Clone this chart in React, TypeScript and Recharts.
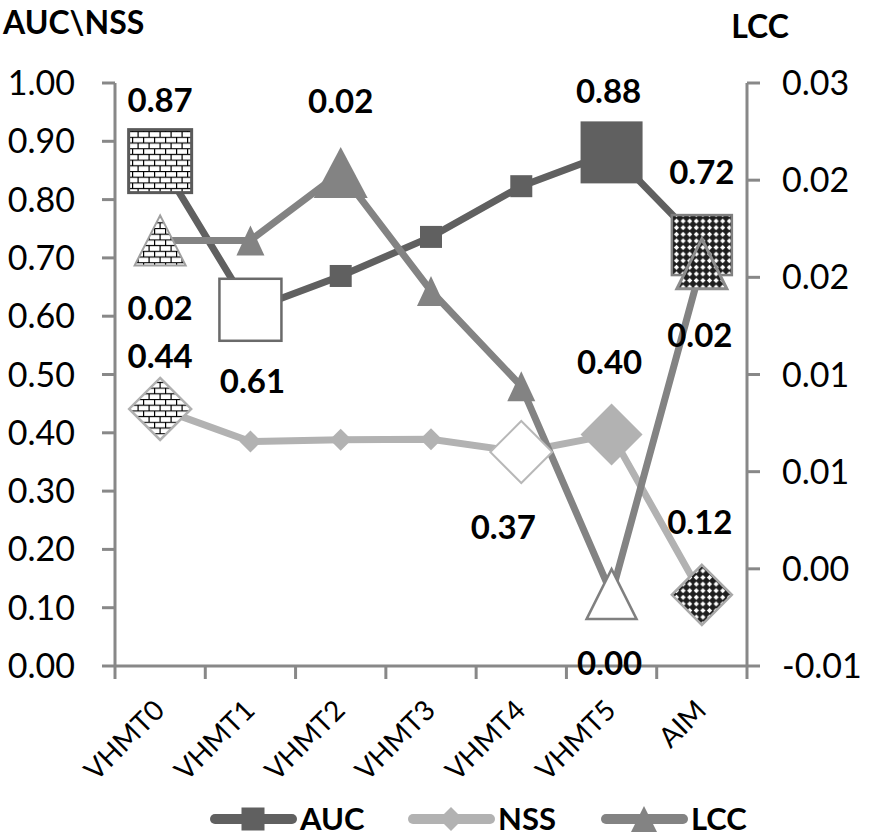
import React from "react";
import { LineChart, Line, XAxis, YAxis, Legend, LabelList } from "recharts";

// ---------- data ----------
const categories = ["VHMT0", "VHMT1", "VHMT2", "VHMT3", "VHMT4", "VHMT5", "AIM"];
const aucValues = [0.866, 0.611, 0.669, 0.736, 0.823, 0.881, 0.722];
const nssValues = [0.441, 0.385, 0.388, 0.389, 0.367, 0.397, 0.122];
const lccValues = [0.0169, 0.0169, 0.0204, 0.0143, 0.0094, -0.0013, 0.0157];
const leftTicks = [0, 0.1, 0.2, 0.3, 0.4, 0.5, 0.6, 0.7, 0.8, 0.9, 1.0];
const rightTicks = [-0.005, 0, 0.005, 0.01, 0.015, 0.02, 0.025];
const seriesNames = ["AUC", "NSS", "LCC"];

const data = categories.map((c, i) => ({
  name: c,
  auc: aucValues[i],
  nss: nssValues[i],
  lcc: lccValues[i],
}));

// ---------- styles ----------
const FONT = "Lato, 'DejaVu Sans', sans-serif";
const AXIS = "#888888";
const C_AUC = "#606060";
const C_NSS = "#b2b2b2";
const C_LCC = "#838383";
const W = 869;
const H = 837;
const PLOT_L = 115;
const PLOT_R = 747;
const LEGEND_H = 38;
const HALF_BAND = (PLOT_R - PLOT_L) / categories.length / 2;

type Spec = { shape: string; w: number; h?: number; fill: string; stroke?: string; sw?: number };

const aucMarkers: Spec[] = [
  { shape: "sq", w: 63, fill: "url(#brick)", stroke: "#5a5a5a", sw: 3 },
  { shape: "sq", w: 62, fill: "#ffffff", stroke: "#6a6a6a", sw: 2.5 },
  { shape: "sq", w: 22, fill: C_AUC },
  { shape: "sq", w: 22, fill: C_AUC },
  { shape: "sq", w: 22, fill: C_AUC },
  { shape: "sq", w: 62, fill: C_AUC },
  { shape: "sq", w: 60, fill: "url(#checker)", stroke: "#808080", sw: 2.5 },
];
const nssMarkers: Spec[] = [
  { shape: "di", w: 62, fill: "url(#brick)", stroke: "#b0b0b0", sw: 2.5 },
  { shape: "di", w: 22, fill: C_NSS },
  { shape: "di", w: 22, fill: C_NSS },
  { shape: "di", w: 22, fill: C_NSS },
  { shape: "di", w: 62, fill: "#ffffff", stroke: "#b8b8b8", sw: 2 },
  { shape: "di", w: 62, fill: C_NSS },
  { shape: "di", w: 60, fill: "url(#checker)", stroke: "#a8a8a8", sw: 2.5 },
];
const lccMarkers: Spec[] = [
  { shape: "tr", w: 51, h: 50, fill: "url(#brick)", stroke: "#a0a0a0", sw: 2 },
  { shape: "tr", w: 28, h: 30, fill: C_LCC },
  { shape: "tr", w: 54, h: 51, fill: C_LCC },
  { shape: "tr", w: 28, h: 30, fill: C_LCC },
  { shape: "tr", w: 28, h: 30, fill: C_LCC },
  { shape: "tr", w: 50, h: 50, fill: "#ffffff", stroke: "#808080", sw: 2.5 },
  { shape: "tr", w: 50, h: 50, fill: "url(#checker)", stroke: "#8c8c8c", sw: 3 },
];

// label placement per point index: [dx, dy]
const aucLabelPos: Record<number, [number, number]> = { 0: [0, -61], 1: [2, 71], 5: [-3, -61], 6: [0, -73] };
const nssLabelPos: Record<number, [number, number]> = { 0: [0, -53], 4: [-18, 75], 5: [-2, -72], 6: [-2, -73] };
const lccLabelPos: Record<number, [number, number]> = { 0: [0, 68], 2: [0, -71], 5: [-2, 69], 6: [-2, 71] };

function drawShape(s: Spec, cx: number, cy: number) {
  const common = { fill: s.fill, stroke: s.stroke || "none", strokeWidth: s.sw || 0 };
  if (s.shape === "sq") {
    return <rect x={cx - s.w / 2} y={cy - s.w / 2} width={s.w} height={s.w} {...common} />;
  }
  if (s.shape === "di") {
    const r = s.w / 2;
    return <polygon points={`${cx},${cy - r} ${cx + r},${cy} ${cx},${cy + r} ${cx - r},${cy}`} {...common} />;
  }
  const h = s.h || s.w;
  return (
    <polygon
      points={`${cx},${cy - h / 2} ${cx + s.w / 2},${cy + h / 2} ${cx - s.w / 2},${cy + h / 2}`}
      {...common}
    />
  );
}

const makeDot = (specs: Spec[], key: string) => (props: any) => {
  const { cx, cy, index } = props;
  if (cx == null || cy == null) return <g key={`${key}-${index}`} />;
  return <g key={`${key}-${index}`}>{drawShape(specs[index], cx, cy)}</g>;
};

const fmtLabel = (v: number) => {
  const s = v.toFixed(2);
  return s === "-0.00" ? "0.00" : s;
};

const makeLabel = (pos: Record<number, [number, number]>, values: number[]) => (props: any) => {
  const { x, y, index } = props;
  const p = pos[index];
  if (!p || x == null || y == null) return null;
  return (
    <text
      key={`lbl-${index}`}
      x={x + p[0]}
      y={y + p[1]}
      dy="0.36em"
      textAnchor="middle"
      fontFamily={FONT}
      fontWeight={700}
      fontSize={33}
      fill="#000"
    >
      {fmtLabel(values[index])}
    </text>
  );
};

const excelRound = (v: number) => {
  const r = (Math.sign(v) * Math.round(Math.abs(v) * 100 + 1e-9)) / 100;
  return (r === 0 ? 0 : r).toFixed(2);
};

const XTick = (props: any) => {
  const { x, y, payload, index } = props;
  const last = index === categories.length - 1;
  return (
    <g>
      <line x1={x - HALF_BAND} x2={x - HALF_BAND} y1={y} y2={y + 13} stroke={AXIS} strokeWidth={3} />
      {last && <line x1={x + HALF_BAND} x2={x + HALF_BAND} y1={y} y2={y + 13} stroke={AXIS} strokeWidth={3} />}
      <text
        transform={`translate(${x + 6},${y + 46}) rotate(-45)`}
        textAnchor="end"
        fontFamily={FONT}
        fontSize={28}
        fill="#000"
      >
        {payload.value}
      </text>
    </g>
  );
};

const LegendContent = () => {
  const cy = 20;
  const items = [
    { x: 210, color: C_AUC, spec: { shape: "sq", w: 23, fill: C_AUC } as Spec },
    { x: 408, color: C_NSS, spec: { shape: "di", w: 24, fill: C_NSS } as Spec },
    { x: 601, color: C_LCC, spec: { shape: "tr", w: 26, h: 26, fill: C_LCC } as Spec },
  ];
  return (
    <svg width={W} height={LEGEND_H} style={{ display: "block" }}>
      {items.map((it, i) => (
        <g key={seriesNames[i]}>
          <line x1={it.x + 5} x2={it.x + 82} y1={cy} y2={cy} stroke={it.color} strokeWidth={10} strokeLinecap="round" />
          {drawShape(it.spec, it.x + 43, cy)}
          <text x={it.x + 90} y={cy} dy="0.36em" fontFamily={FONT} fontWeight={700} fontSize={31} fill="#000">
            {seriesNames[i]}
          </text>
        </g>
      ))}
    </svg>
  );
};

export default function App() {
  return (
    <div style={{ position: "absolute", left: 0, top: 0, width: W, height: H, background: "#fff" }}>
      <svg width={0} height={0} style={{ position: "absolute" }}>
        <defs>
          <pattern id="brick" patternUnits="userSpaceOnUse" width={11} height={11.4}>
            <rect width={11} height={11.4} fill="#fff" />
            <line x1={0} x2={11} y1={0.5} y2={0.5} stroke="#000" strokeWidth={1.2} />
            <line x1={0} x2={11} y1={6.2} y2={6.2} stroke="#000" strokeWidth={1.2} />
            <line x1={0.6} x2={0.6} y1={0} y2={6.2} stroke="#000" strokeWidth={1.2} />
            <line x1={6.1} x2={6.1} y1={6.2} y2={11.4} stroke="#000" strokeWidth={1.2} />
          </pattern>
          <pattern id="checker" patternUnits="userSpaceOnUse" width={6.6} height={6.6}>
            <rect width={6.6} height={6.6} fill="#1e1e1e" />
            <polygon points="3.3,0.7 5.9,3.3 3.3,5.9 0.7,3.3" fill="#fff" />
          </pattern>
        </defs>
      </svg>
      <LineChart width={W} height={H} data={data} margin={{ top: 83, right: 0, bottom: 0, left: 0 }}>
        <XAxis
          dataKey="name"
          height={171 - LEGEND_H}
          interval={0}
          padding={{ left: HALF_BAND, right: HALF_BAND }}
          tickLine={false}
          tickSize={0}
          tickMargin={0}
          axisLine={{ stroke: AXIS, strokeWidth: 3 }}
          tick={<XTick />}
        />
        <YAxis
          yAxisId="left"
          width={PLOT_L}
          domain={[0, 1]}
          ticks={leftTicks}
          tickFormatter={(v: number) => v.toFixed(2)}
          axisLine={{ stroke: AXIS, strokeWidth: 3 }}
          tickLine={{ stroke: AXIS, strokeWidth: 3 }}
          tickSize={13}
          tickMargin={27}
          tick={{ fill: "#000", fontSize: 34, fontFamily: FONT }}
          interval={0}
          label={() => (
            <text x={3} y={34} fontFamily={FONT} fontWeight={700} fontSize={32} fill="#000">
              AUC\NSS
            </text>
          )}
        />
        <YAxis
          yAxisId="right"
          orientation="right"
          width={W - PLOT_R}
          domain={[-0.005, 0.025]}
          ticks={rightTicks}
          tickFormatter={excelRound}
          axisLine={{ stroke: AXIS, strokeWidth: 3 }}
          tickLine={{ stroke: AXIS, strokeWidth: 3 }}
          tickSize={13}
          tickMargin={22}
          tick={{ fill: "#000", fontSize: 34, fontFamily: FONT }}
          interval={0}
          label={() => (
            <text x={760} y={38} textAnchor="middle" fontFamily={FONT} fontWeight={700} fontSize={32} fill="#000">
              LCC
            </text>
          )}
        />
        <Legend verticalAlign="bottom" align="left" content={<LegendContent />} />
        <Line
          yAxisId="left"
          dataKey="auc"
          name="AUC"
          stroke={C_AUC}
          strokeWidth={7}
          isAnimationActive={false}
          dot={makeDot(aucMarkers, "auc")}
          activeDot={false}
        >
          <LabelList dataKey="auc" content={makeLabel(aucLabelPos, aucValues)} />
        </Line>
        <Line
          yAxisId="left"
          dataKey="nss"
          name="NSS"
          stroke={C_NSS}
          strokeWidth={7}
          isAnimationActive={false}
          dot={makeDot(nssMarkers, "nss")}
          activeDot={false}
        >
          <LabelList dataKey="nss" content={makeLabel(nssLabelPos, nssValues)} />
        </Line>
        <Line
          yAxisId="right"
          dataKey="lcc"
          name="LCC"
          stroke={C_LCC}
          strokeWidth={7}
          isAnimationActive={false}
          dot={makeDot(lccMarkers, "lcc")}
          activeDot={false}
        >
          <LabelList dataKey="lcc" content={makeLabel(lccLabelPos, lccValues)} />
        </Line>
      </LineChart>
    </div>
  );
}
